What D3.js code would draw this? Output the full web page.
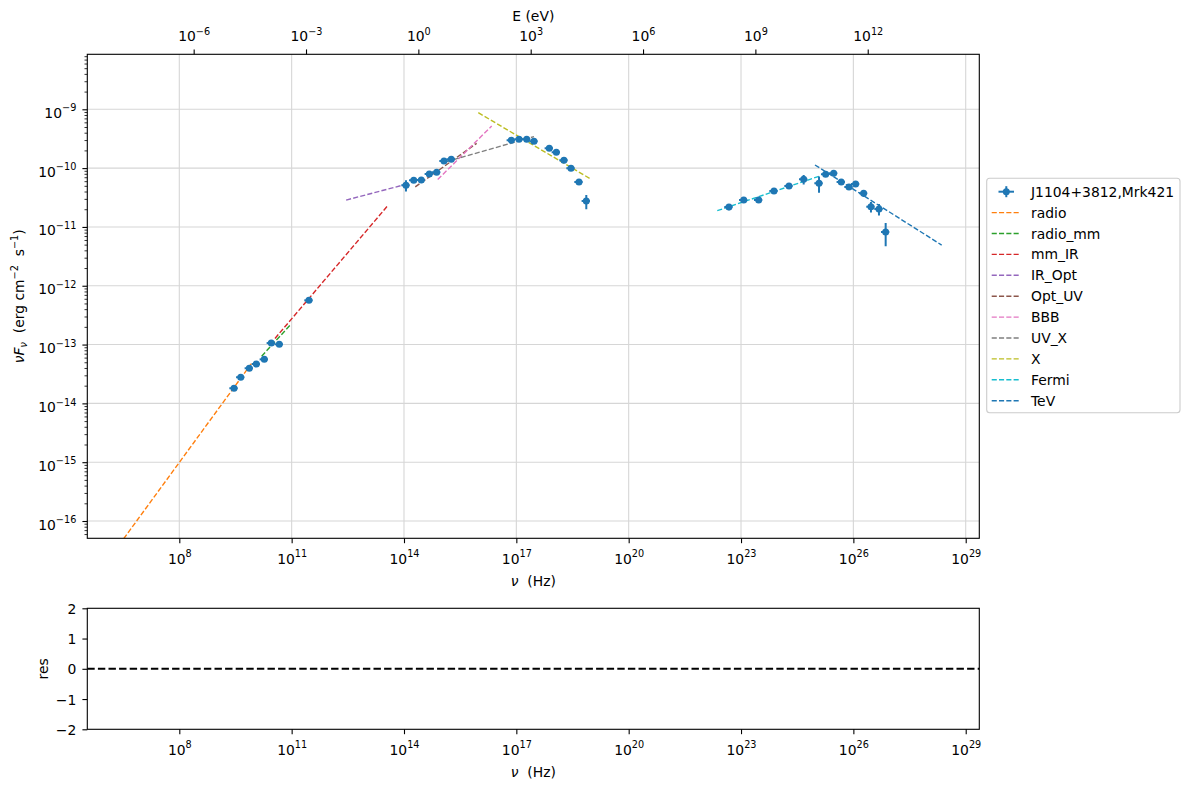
<!DOCTYPE html>
<html>
<head>
<meta charset="utf-8">
<script src="https://cdn.jsdelivr.net/npm/d3@7"></script>
<style>
  body { margin: 0; background: #fff; }
  svg, svg text { font-family: "DejaVu Sans", sans-serif; }
</style>
</head>
<body>
<svg id="chart" width="1189" height="789"></svg>
<script>
// SED data points (Hz, erg cm^-2 s^-1)
const nuData = [
  2.89e9, 4.37e9, 7.40e9, 1.14e10, 1.86e10, 2.86e10, 4.68e10, 2.90e11,
  1.13e14, 1.82e14, 2.90e14, 4.74e14, 7.46e14, 1.17e15, 1.83e15,
  7.33e16, 1.18e17, 1.89e17, 2.96e17, 7.59e17, 1.17e18, 1.87e18, 2.88e18, 4.71e18, 7.38e18,
  4.76e22, 1.18e23, 2.96e23, 7.59e23, 1.91e24, 4.71e24, 1.21e25, 1.82e25, 2.98e25,
  4.75e25, 7.64e25, 1.15e26, 1.88e26, 2.95e26, 4.83e26, 7.29e26
];
const fluxData = [
  1.80e-14, 2.77e-14, 3.94e-14, 4.66e-14, 5.60e-14, 1.06e-13, 1.01e-13, 5.65e-13,
  5.09e-11, 6.21e-11, 6.28e-11, 7.94e-11, 8.49e-11, 1.32e-10, 1.41e-10,
  2.97e-10, 3.09e-10, 3.09e-10, 2.86e-10, 2.17e-10, 1.86e-10, 1.36e-10, 9.93e-11, 5.81e-11, 2.75e-11,
  2.18e-11, 2.86e-11, 2.86e-11, 4.08e-11, 4.97e-11, 6.46e-11, 5.51e-11, 7.85e-11, 8.17e-11,
  5.81e-11, 4.78e-11, 5.37e-11, 3.72e-11, 2.21e-11, 2.01e-11, 8.18e-12
];
const fluxErr = [
  0.8e-15, 1.2e-15, 1.8e-15, 2.0e-15, 2.5e-15, 5.0e-15, 9.0e-15, 2.5e-14,
  1.1e-11, 3.0e-12, 3.0e-12, 4.0e-12, 4.0e-12, 6.0e-12, 6.0e-12,
  1.2e-11, 1.2e-11, 1.2e-11, 1.2e-11, 9.0e-12, 8.0e-12, 6.0e-12, 4.0e-12, 2.5e-12, 0.75e-11,
  0.25e-11, 0.2e-11, 0.2e-11, 0.35e-11, 0.5e-11, 1.2e-11, 1.7e-11, 0.6e-11, 0.6e-11,
  0.5e-11, 0.4e-11, 0.4e-11, 0.5e-11, 0.45e-11, 0.45e-11, 3.5e-12
];
const nuErrFrac = 0.25;

// model components: power-law segments [nu start, nu end], [flux start, flux end]
const compNames = ["radio", "radio_mm", "mm_IR", "IR_Opt", "Opt_UV", "BBB", "UV_X", "X", "Fermi", "TeV"];
const compColors = ["#ff7f0e", "#2ca02c", "#d62728", "#9467bd", "#8c564b", "#e377c2", "#7f7f7f", "#bcbd22", "#17becf", "#1f77b4"];
const compNu = [
  [2.51e6, 9.12e9], [1.58e10, 9.44e10], [3.59e10, 3.81e13], [2.85e12, 1.13e14], [2.0e14, 8.73e15],
  [7.94e14, 2.20e16], [1.38e15, 2.96e17], [9.64e15, 9.68e18], [2.32e22, 1.21e25], [9.44e24, 2.28e28]
];
const compFlux = [
  [3.97e-17, 5.09e-14], [6.34e-14, 2.19e-13], [1.27e-13, 2.36e-11], [2.86e-11, 5.30e-11], [4.80e-11, 2.64e-10],
  [6.38e-11, 5.20e-10], [1.29e-10, 3.43e-10], [8.75e-10, 6.53e-11], [1.89e-11, 7.26e-11], [1.13e-10, 4.92e-12]
];

const xTicks = [1e8, 1e11, 1e14, 1e17, 1e20, 1e23, 1e26, 1e29];
const eTicks = [1e-6, 1e-3, 1e0, 1e3, 1e6, 1e9, 1e12];
const yTicks = [1e-16, 1e-15, 1e-14, 1e-13, 1e-12, 1e-11, 1e-10, 1e-9];
const resTicks = [-2, -1, 0, 1, 2];
const hPlanck = 4.135667e-15; // eV s

const svg = d3.select("#chart");
const L = 87.3, R = 979.3, T = 54.3, B = 538.3;
const RT = 608.3, RB = 729.3;
const dataColor = "#1f77b4";
const FS = 13.9, SFS = 9.7;
const dash = "5.1,2.2";

const x = d3.scaleLog().domain([Math.pow(10, 5.543), Math.pow(10, 29.363)]).range([L, R]);
const y = d3.scaleLog().domain([Math.pow(10, -16.294), Math.pow(10, -8.065)]).range([B, T]);
const xE = d3.scaleLog().domain(x.domain().map(d => d * hPlanck)).range([L, R]);
const yRes = d3.scaleLinear().domain([-2, 2]).range([RB, RT]);

function sup(sel, v) {
  const e = Math.round(Math.log10(v));
  sel.text(null);
  sel.append("tspan").text("10");
  sel.append("tspan").attr("font-size", SFS).attr("dy", -6.3)
    .text(String(e).replace("-", "\u2212"));
}

function styleAxis(g) {
  g.attr("font-family", "DejaVu Sans").attr("font-size", FS);
  g.select(".domain").remove();
  g.selectAll(".tick line").attr("stroke-width", 1.1);
}

function nuLabel(yPos) {
  const t = svg.append("text").attr("x", (L + R) / 2).attr("y", yPos).attr("text-anchor", "middle")
    .attr("font-size", FS).style("white-space", "pre");
  t.append("tspan").attr("font-style", "italic").text("\u03bd");
  t.append("tspan").text("  (Hz)");
}

svg.append("defs").append("clipPath").attr("id", "clip")
  .append("rect").attr("x", L).attr("y", T).attr("width", R - L).attr("height", B - T);

// grid
const grid = svg.append("g");
grid.selectAll(".gx").data(xTicks).join("line")
  .attr("x1", d => x(d)).attr("x2", d => x(d)).attr("y1", T).attr("y2", B)
  .attr("stroke", "#d6d6d6").attr("stroke-width", 1.1);
grid.selectAll(".gy").data(yTicks).join("line")
  .attr("x1", L).attr("x2", R).attr("y1", d => y(d)).attr("y2", d => y(d))
  .attr("stroke", "#d6d6d6").attr("stroke-width", 1.1);

// model lines
const plot = svg.append("g").attr("clip-path", "url(#clip)");
const line = d3.line().x(d => x(d[0])).y(d => y(d[1]));
compNames.forEach((name, i) => {
  plot.append("path")
    .attr("d", line(compNu[i].map((n, j) => [n, compFlux[i][j]])))
    .attr("fill", "none").attr("stroke", compColors[i]).attr("stroke-width", 1.39)
    .attr("stroke-dasharray", dash);
});

// data with error bars
const pts = nuData.map((n, i) => ({ nu: n, f: fluxData[i], e: fluxErr[i] }));
const pg = plot.append("g");
pg.selectAll(".ey").data(pts).join("line")
  .attr("x1", d => x(d.nu)).attr("x2", d => x(d.nu))
  .attr("y1", d => y(d.f + d.e)).attr("y2", d => y(Math.max(d.f - d.e, 1e-20)))
  .attr("stroke", dataColor).attr("stroke-width", 2);
pg.selectAll(".ex").data(pts).join("line")
  .attr("x1", d => x(d.nu * (1 - nuErrFrac))).attr("x2", d => x(d.nu * (1 + nuErrFrac)))
  .attr("y1", d => y(d.f)).attr("y2", d => y(d.f))
  .attr("stroke", dataColor).attr("stroke-width", 2);
pg.selectAll("circle").data(pts).join("circle")
  .attr("cx", d => x(d.nu)).attr("cy", d => y(d.f)).attr("r", 3.5)
  .attr("fill", dataColor);

// axes frame
svg.append("rect").attr("x", L).attr("y", T).attr("width", R - L).attr("height", B - T)
  .attr("fill", "none").attr("stroke", "#000").attr("stroke-width", 1.1);

const gx = svg.append("g").attr("transform", `translate(0,${B})`)
  .call(d3.axisBottom(x).tickValues(xTicks).tickSize(4.9));
styleAxis(gx);
gx.selectAll("text").attr("dy", 0).attr("y", 25.5).each(function(d) { sup(d3.select(this), d); });

const ge = svg.append("g").attr("transform", `translate(0,${T})`)
  .call(d3.axisTop(xE).tickValues(eTicks).tickSize(4.9));
styleAxis(ge);
ge.selectAll("text").attr("dy", 0).attr("y", -13).each(function(d) { sup(d3.select(this), d); });

const yMinor = [];
for (let p = -17; p <= -8; p++) for (let k = 2; k <= 9; k++) {
  const v = k * Math.pow(10, p);
  if (v >= y.domain()[0] && v <= y.domain()[1]) yMinor.push(v);
}
const gym = svg.append("g").attr("transform", `translate(${L},0)`)
  .call(d3.axisLeft(y).tickValues(yMinor).tickSize(2.8).tickFormat(""));
styleAxis(gym);
gym.selectAll(".tick line").attr("stroke-width", 0.8);
const gy = svg.append("g").attr("transform", `translate(${L},0)`)
  .call(d3.axisLeft(y).tickValues(yTicks).tickSize(4.9));
styleAxis(gy);
gy.selectAll("text").attr("dy", 0).attr("x", -11).attr("y", 8)
  .each(function(d) { sup(d3.select(this), d); });

// axis labels
svg.append("text").attr("x", (L + R) / 2).attr("y", 21).attr("text-anchor", "middle")
  .attr("font-size", FS).text("E (eV)");
nuLabel(585.5);
const yl = svg.append("text").attr("transform", `translate(24,${(T + B) / 2}) rotate(-90)`)
  .attr("text-anchor", "middle").attr("font-size", FS).style("white-space", "pre");
yl.append("tspan").attr("font-style", "italic").text("\u03bdF");
yl.append("tspan").attr("font-style", "italic").attr("font-size", SFS).attr("dy", 3).text("\u03bd");
yl.append("tspan").attr("dy", -3).text("  (erg cm");
yl.append("tspan").attr("font-size", SFS).attr("dy", -6.3).text("\u22122");
yl.append("tspan").attr("dy", 6.3).text("  s");
yl.append("tspan").attr("font-size", SFS).attr("dy", -6.3).text("\u22121");
yl.append("tspan").attr("dy", 6.3).text(")");

// legend
const lg = svg.append("g");
lg.append("rect").attr("x", 986.7).attr("y", 178.3).attr("width", 193.3).attr("height", 234.4)
  .attr("rx", 3).attr("fill", "#fff").attr("fill-opacity", 0.8).attr("stroke", "#cccccc").attr("stroke-width", 1.1);
const rowY = i => 191.7 + i * 20.9;
lg.append("line").attr("x1", 998.5).attr("x2", 1014).attr("y1", rowY(0)).attr("y2", rowY(0))
  .attr("stroke", dataColor).attr("stroke-width", 2);
lg.append("line").attr("x1", 1006.3).attr("x2", 1006.3).attr("y1", rowY(0) - 5.5).attr("y2", rowY(0) + 5.5)
  .attr("stroke", dataColor).attr("stroke-width", 2);
lg.append("circle").attr("cx", 1006.3).attr("cy", rowY(0)).attr("r", 3.5).attr("fill", dataColor);
lg.append("text").attr("x", 1031).attr("y", rowY(0) + 5).attr("font-size", FS).text("J1104+3812,Mrk421");
compNames.forEach((name, i) => {
  const yy = rowY(i + 1);
  lg.append("line").attr("x1", 991.7).attr("x2", 1020).attr("y1", yy).attr("y2", yy)
    .attr("stroke", compColors[i]).attr("stroke-width", 1.39).attr("stroke-dasharray", dash);
  lg.append("text").attr("x", 1031).attr("y", yy + 5).attr("font-size", FS).text(name);
});

// residual panel
svg.append("rect").attr("x", L).attr("y", RT).attr("width", R - L).attr("height", RB - RT)
  .attr("fill", "none").attr("stroke", "#000").attr("stroke-width", 1.1);
svg.append("line").attr("x1", L).attr("x2", R).attr("y1", yRes(0)).attr("y2", yRes(0))
  .attr("stroke", "#000").attr("stroke-width", 2).attr("stroke-dasharray", "7.4,3.2");
const rx = svg.append("g").attr("transform", `translate(0,${RB})`)
  .call(d3.axisBottom(x).tickValues(xTicks).tickSize(4.9));
styleAxis(rx);
rx.selectAll("text").attr("dy", 0).attr("y", 25.5).each(function(d) { sup(d3.select(this), d); });
const ry = svg.append("g").attr("transform", `translate(${L},0)`)
  .call(d3.axisLeft(yRes).tickValues(resTicks).tickSize(4.9)
    .tickFormat(d => String(d).replace("-", "\u2212")));
styleAxis(ry);
ry.selectAll("text").attr("dy", 0).attr("x", -11).attr("y", 5);
svg.append("text").attr("transform", `translate(48,${(RT + RB) / 2}) rotate(-90)`)
  .attr("text-anchor", "middle").attr("font-size", FS).text("res");
nuLabel(777);
</script>
</body>
</html>
